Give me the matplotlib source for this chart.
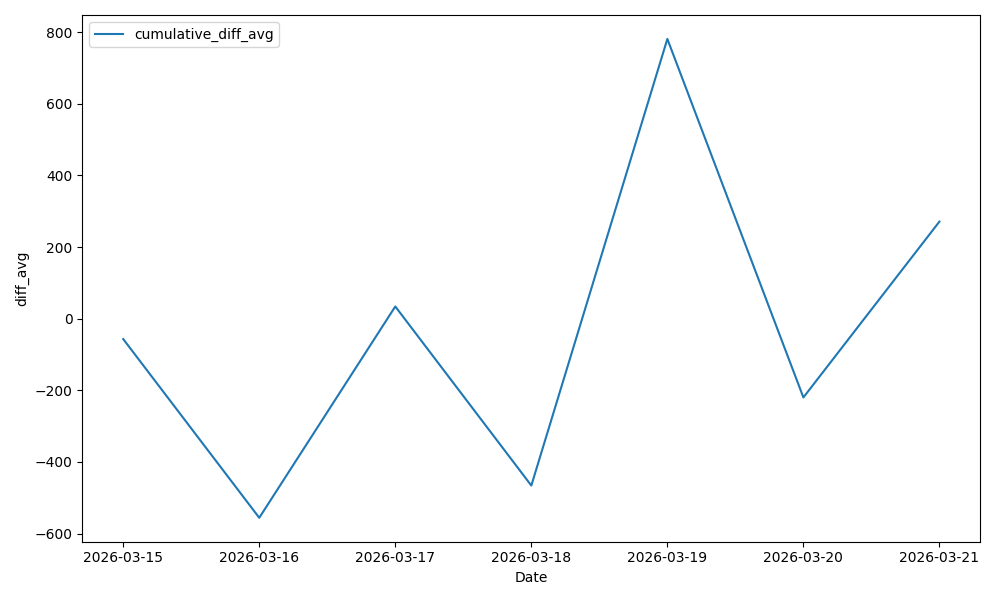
import matplotlib
matplotlib.use("Agg")
import matplotlib.pyplot as plt
import pandas as pd

dates = ["2026-03-15", "2026-03-16", "2026-03-17", "2026-03-18", "2026-03-19", "2026-03-20", "2026-03-21"]
cumulative_diff_avg = [-57, -556, 34, -466, 781, -220, 271]

x = pd.to_datetime(dates)
fig, ax = plt.subplots(figsize=(10, 6), dpi=100)
ax.plot(x, cumulative_diff_avg, label="cumulative_diff_avg")
ax.set_xticks(x)
ax.set_xticklabels(dates)
ax.set_xlabel("Date")
ax.set_ylabel("diff_avg")
ax.legend(loc="upper left")
fig.tight_layout()
fig.savefig("out.png")
